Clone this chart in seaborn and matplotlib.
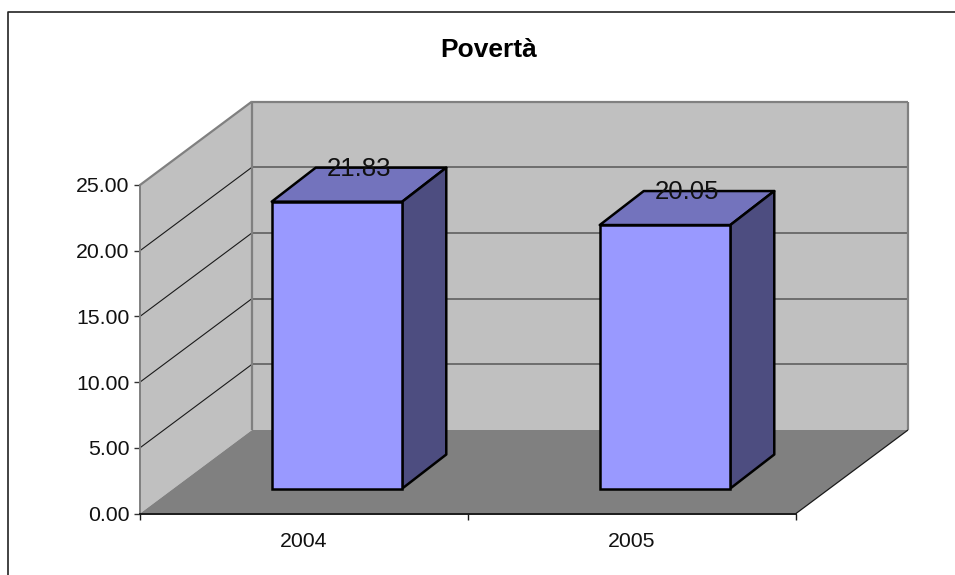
import matplotlib
matplotlib.use("Agg")
import matplotlib.pyplot as plt
import pandas as pd
import seaborn as sns
from matplotlib.patches import Polygon
from matplotlib.transforms import Affine2D, IdentityTransform

years = ["2004", "2005"]
poverty = [21.83, 20.05]
y_ticks = [0, 5, 10, 15, 20, 25]
title = "Povertà"

WALL = "#c0c0c0"
FLOOR = "#808080"
WALL_EDGE = "#808080"
GRID = "#5f5f5f"
BAR_FRONT = "#9999ff"
BAR_TOP = "#7373bd"
BAR_SIDE = "#4d4d80"

W, H = 955, 575
DPI = 100
# Oblique projection of the chart box, in pixels
BOX_DX, BOX_DY = 112, 83.5
BAR_SHIFT = (33, 25)
BAR_DX, BAR_DY = 44, 34

sns.set_theme(style="white")
plt.rcParams["font.family"] = ["Liberation Sans", "DejaVu Sans"]

fig = plt.figure(figsize=(W / DPI, H / DPI), dpi=DPI, facecolor="white")
ax = fig.add_axes([140 / W, (H - 513.5) / H, 656 / W, 328.5 / H])
ax.patch.set_visible(False)

frame = pd.DataFrame({"anno": years, "valore": poverty})
sns.barplot(data=frame, x="anno", y="valore", color=BAR_FRONT, saturation=1,
            width=0.398, ax=ax, edgecolor="black", linewidth=1.8, zorder=6)

ax.set_xlim(-0.5, len(years) - 0.5)
ax.set_ylim(y_ticks[0], y_ticks[-1])
ax.set_xlabel("")
ax.set_ylabel("")

ident = IdentityTransform()


def px(x, y):
    return ax.transData.transform((x, y))


def add_poly(points, **kw):
    kw.setdefault("linewidth", 0)
    ax.add_patch(Polygon(points, closed=True, transform=ident, clip_on=False, **kw))


def add_line(p, q, color, lw, z):
    ax.plot([p[0], q[0]], [p[1], q[1]], transform=ident, color=color, lw=lw,
            zorder=z, clip_on=False, solid_capstyle="butt")


# Walls and floor of the box
x0, x1 = ax.get_xlim()
box = (BOX_DX, BOX_DY)
fl, fr = px(x0, y_ticks[0]), px(x1, y_ticks[0])
tl, tr = px(x0, y_ticks[-1]), px(x1, y_ticks[-1])
add_poly([tl + box, tr + box, fr + box, fl + box], facecolor=WALL, zorder=1)
add_poly([fl, tl, tl + box, fl + box], facecolor=WALL, zorder=1)
add_poly([fl, fr, fr + box, fl + box], facecolor=FLOOR, zorder=2)

# Gridlines run along the side wall and across the back wall
for v in y_ticks[1:-1]:
    p = px(x0, v)
    q = px(x1, v)
    add_line(p, p + box, "#1a1a1a", 0.8, 3)
    add_line(p + box, q + box, GRID, 1.2, 3)

add_line(tl + box, tr + box, WALL_EDGE, 1.6, 3)
add_line(tl, tl + box, WALL_EDGE, 1.6, 3)
add_line(tl + box, fl + box, WALL_EDGE, 1.6, 3)
add_line(tr + box, fr + box, WALL_EDGE, 1.6, 3)
add_line(fr, fr + box, "#1a1a1a", 0.9, 3)

# Bars sit part way into the box; top and side faces extend from the front face
shift = Affine2D().translate(*BAR_SHIFT)
depth = (BAR_DX, BAR_DY)
for patch, value in zip(ax.patches[:len(years)], poverty):
    left = patch.get_x()
    right = left + patch.get_width()
    patch.set_transform(ax.transData + shift)
    patch.set_clip_on(False)
    bl = px(left, 0) + BAR_SHIFT
    br = px(right, 0) + BAR_SHIFT
    tl_bar = px(left, value) + BAR_SHIFT
    tr_bar = px(right, value) + BAR_SHIFT
    add_poly([tl_bar, tr_bar, tr_bar + depth, tl_bar + depth], facecolor=BAR_TOP,
             edgecolor="black", linewidth=1.8, joinstyle="round", zorder=5)
    add_poly([br, tr_bar, tr_bar + depth, br + depth], facecolor=BAR_SIDE,
             edgecolor="black", linewidth=1.8, joinstyle="round", zorder=5)
    ax.annotate(f"{value:.2f}", xy=(left + patch.get_width() / 2, value),
                xycoords="data", textcoords="offset pixels",
                xytext=(BAR_SHIFT[0] + BAR_DX / 2 - 0.5, BAR_SHIFT[1] + BAR_DY - 1),
                ha="center", va="center", fontsize=18.5, color="#111111",
                zorder=8, annotation_clip=False)

# Axes furniture
sns.despine(ax=ax, top=True, right=True)
ax.spines["left"].set_color(WALL_EDGE)
ax.spines["left"].set_linewidth(1.4)
ax.spines["left"].set_zorder(4)
ax.spines["bottom"].set_color("#1a1a1a")
ax.spines["bottom"].set_linewidth(1.4)
ax.spines["bottom"].set_zorder(4)

ax.set_yticks(y_ticks)
ax.set_yticklabels([f"{v:.2f}" for v in y_ticks], fontsize=15.3, color="#111111")
ax.set_xticks([x0 + i for i in range(len(years) + 1)])
ax.set_xticklabels([""] * (len(years) + 1))
ax.set_xticks(range(len(years)), labels=years, minor=True)
ax.tick_params(axis="x", which="minor", length=0, labelsize=15.3, pad=13,
               labelcolor="#111111")
ax.tick_params(axis="x", which="major", length=4.5, width=1, color="#1a1a1a",
               bottom=True)
ax.tick_params(axis="y", length=4.5, width=1, color="#333333", left=True, pad=3)

fig.text(489 / W, 1 - 50 / H, title, ha="center", va="center", fontsize=19,
         fontweight="bold", color="black")

# Chart frame: only the top and left edges fall inside the canvas
fig.add_artist(plt.Line2D([7.5 / W, 7.5 / W, 1], [0, 1 - 12 / H, 1 - 12 / H],
                          transform=fig.transFigure, color="#222222", lw=1.2))

fig.savefig("out.png", dpi=DPI, facecolor="white")
